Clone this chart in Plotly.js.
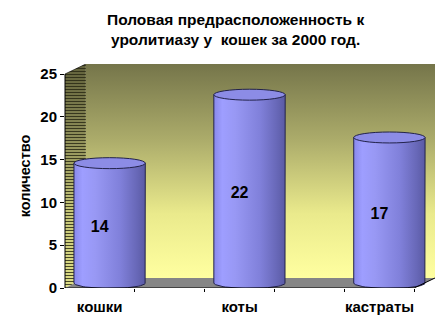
<!DOCTYPE html>
<html>
<head>
<meta charset="utf-8">
<script src="https://cdn.plot.ly/plotly-3.0.1.min.js"></script>
<style>html,body{margin:0;padding:0;background:#fff;}#chart{width:443px;height:327px;}</style>
</head>
<body>
<div id="chart"></div>
<script>
// ---- data ----
const categories = ['кошки', 'коты', 'кастраты'];
const values = [14, 22, 17];
const yTickVals = [0, 5, 10, 15, 20, 25];
const yTickText = ['0', '5', '10', '15', '20', '25'];
const titleText = 'Половая предрасположенность к<br>уролитиазу у \u00a0кошек за 2000 год.';
const yTitle = 'количество';

// ---- geometry (pseudo-3D) ----
const yMaxAxis = 25;
const yTop = 26.17;          // top of back wall (data units)
const xL = -0.248, xR = 2.248;   // front floor edge
const depthX = 0.149, depthY = 1.17;
const bx0 = xL + depthX, bx1 = xR + depthX;
const barOff = 0.071, barHalf = 0.255, ellRy = 0.64;

const traces = [];
// back wall
traces.push({
  type: 'scatter', mode: 'lines', hoverinfo: 'skip', showlegend: false,
  x: [bx0, bx1, bx1, bx0, bx0], y: [depthY, depthY, yTop, yTop, depthY],
  fill: 'toself', line: {width: 0},
  fillgradient: {type: 'vertical', colorscale: [[0, '#ffffa0'], [0.3, '#eaea8c'], [0.65, '#abab6a'], [1, '#75754a']]}
});
// side wall gradient
traces.push({
  type: 'scatter', mode: 'lines', hoverinfo: 'skip', showlegend: false,
  x: [xL, bx0, bx0, xL, xL], y: [0, depthY, yTop, yMaxAxis, 0],
  fill: 'toself', line: {width: 0},
  fillgradient: {type: 'vertical', colorscale: [[0, '#ffff9a'], [0.35, '#e0e088'], [0.7, '#9a9a60'], [1, '#6a6a40']]}
});
// side wall stripes
traces.push({
  type: 'scatter', mode: 'lines', hoverinfo: 'skip', showlegend: false,
  x: [xL, bx0, bx0, xL, xL], y: [0, depthY, yTop, yMaxAxis, 0],
  fill: 'toself', line: {width: 0}, fillcolor: 'rgba(0,0,0,0)',
  fillpattern: {shape: '-', size: 3, solidity: 0.45, fgcolor: 'rgba(40,40,20,0.85)'}
});
// floor
traces.push({
  type: 'scatter', mode: 'lines', hoverinfo: 'skip', showlegend: false,
  x: [xL, xR, bx1, bx0, xL], y: [0, 0, depthY, depthY, 0],
  fill: 'toself', line: {width: 0}, fillcolor: '#868686'
});

const shapes = [];
// bar bodies
values.forEach((v, i) => {
  const c = i + barOff;
  const yb = depthY / 2, yt = v + depthY / 2;
  const xs = [c - barHalf, c - barHalf, c + barHalf, c + barHalf];
  const ys = [yb, yt, yt, yb];
  const n = 30;
  for (let k = 0; k <= n; k++) {
    const t = Math.PI * k / n;
    xs.push(c + barHalf * Math.cos(t));
    ys.push(yb - ellRy * Math.sin(t));
  }
  traces.push({
    type: 'scatter', mode: 'lines', hoverinfo: 'skip', showlegend: false,
    x: xs, y: ys, fill: 'toself',
    line: {width: 1, color: '#22224a'},
    fillgradient: {type: 'horizontal', colorscale: [[0, '#8989ea'], [0.12, '#9e9eff'], [0.3, '#9898f4'], [0.65, '#8080da'], [0.88, '#6868b8'], [1, '#5a5aa4']]}
  });
  shapes.push({
    type: 'circle', xref: 'x', yref: 'y', layer: 'above',
    x0: c - barHalf, x1: c + barHalf, y0: yt - ellRy, y1: yt + ellRy,
    fillcolor: '#8c8ce6', line: {color: '#22224a', width: 1}
  });
});
// value labels
traces.push({
  type: 'scatter', mode: 'text', hoverinfo: 'skip', showlegend: false,
  x: categories.map((_, i) => i), y: values.map(v => v / 2),
  text: values.map(String), cliponaxis: false,
  textfont: {family: 'Liberation Sans, Arial, sans-serif', size: 16, color: '#000', weight: 700}
});

// axis lines
shapes.push({type: 'line', xref: 'paper', yref: 'y', x0: 0, x1: 0, y0: 0, y1: yMaxAxis, line: {color: '#000', width: 1}, layer: 'above'});
shapes.push({type: 'line', xref: 'x', yref: 'y', x0: xL, x1: xR, y0: 0, y1: 0, line: {color: '#000', width: 1}, layer: 'above'});
shapes.push({type: 'line', xref: 'x', yref: 'y', x0: xR, x1: bx1, y0: 0, y1: depthY, line: {color: '#000', width: 1}, layer: 'above'});
shapes.push({type: 'line', xref: 'x', yref: 'y', x0: bx0, x1: bx0, y0: depthY, y1: yTop, line: {color: '#eeeed0', width: 1}, layer: 'below'});
shapes.push({type: 'line', xref: 'x', yref: 'y', x0: xL, x1: bx0, y0: yMaxAxis, y1: yTop, line: {color: '#000', width: 0.6}, layer: 'above'});

const font = 'Liberation Sans, Arial, sans-serif';
const layout = {
  width: 443, height: 327,
  margin: {l: 65, r: 8, t: 64, b: 39, pad: 0},
  paper_bgcolor: '#fff', plot_bgcolor: 'rgba(0,0,0,0)',
  showlegend: false,
  annotations: [{
    text: titleText, xref: 'paper', yref: 'paper',
    x: (235 - 65) / 370, xanchor: 'center',
    y: 1 + (64 - 9) / 224, yanchor: 'top', showarrow: false,
    font: {family: font, size: 15.5, color: '#000', weight: 700}
  }],
  xaxis: {
    range: [xL, bx1], showgrid: false, zeroline: false, showline: false,
    tickmode: 'array', tickvals: categories.map((_, i) => i), ticktext: categories,
    ticks: '', ticklabelstandoff: 8,
    tickfont: {family: font, size: 15, color: '#000', weight: 700},
    minor: {tickmode: 'array', tickvals: [-0.25, 0.25, 0.75, 1.25, 1.75, 2.25], ticks: 'outside', ticklen: 3, tickcolor: '#000', showgrid: false},
    fixedrange: true
  },
  yaxis: {
    range: [0, yTop], showgrid: false, zeroline: false, showline: false,
    tickmode: 'array', tickvals: yTickVals, ticktext: yTickText,
    ticks: 'outside', ticklen: 4, tickcolor: '#000',
    tickfont: {family: font, size: 15, color: '#000', weight: 700},
    title: {text: yTitle, standoff: 6, font: {family: font, size: 14.5, color: '#000', weight: 700}},
    fixedrange: true
  },
  shapes: shapes
};

Plotly.newPlot('chart', traces, layout, {staticPlot: true, displayModeBar: false});
</script>
</body>
</html>
